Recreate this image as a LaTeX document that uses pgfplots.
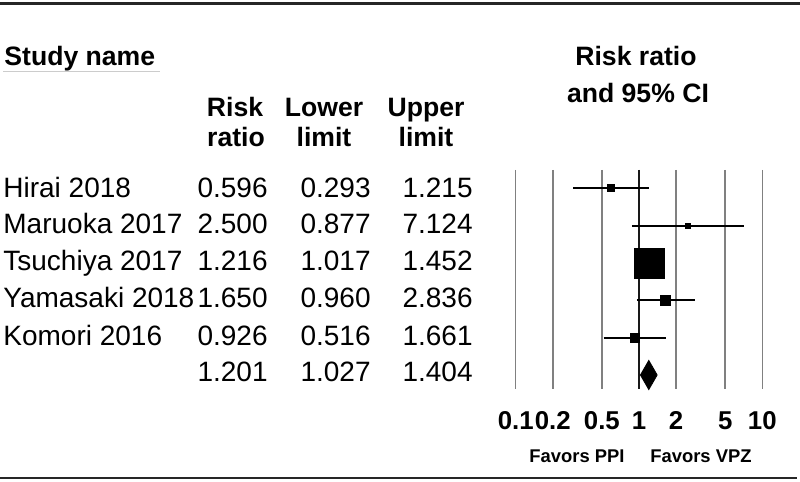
\documentclass[border=0pt]{standalone}
\usepackage{pgfplots}
\pgfplotsset{compat=1.18}
\usepackage{fontspec}
\setmainfont{Liberation Sans}
\begin{document}
\begin{tikzpicture}[x=0.5pt,y=-0.5pt]
\path[use as bounding box] (0,0) rectangle (800,482);
% rules
\draw[line width=1.1pt, black!85] (0,3.5) -- (800,3.5);
\draw[line width=1.1pt, black!85] (0,478) -- (797,478);
\draw[gray!40, line width=0.5pt] (3,71) -- (160,71);
% headers
\node[anchor=base west, inner sep=0, font=\fontsize{13.3}{15}\selectfont\bfseries] at (4,65) {Study name};
\node[anchor=base, inner sep=0, font=\fontsize{13.3}{15}\selectfont\bfseries] at (235,117) {Risk};
\node[anchor=base, inner sep=0, font=\fontsize{13.3}{15}\selectfont\bfseries] at (236,147) {ratio};
\node[anchor=base, inner sep=0, font=\fontsize{13.3}{15}\selectfont\bfseries] at (324,117) {Lower};
\node[anchor=base, inner sep=0, font=\fontsize{13.3}{15}\selectfont\bfseries] at (324,147) {limit};
\node[anchor=base, inner sep=0, font=\fontsize{13.3}{15}\selectfont\bfseries] at (426,117) {Upper};
\node[anchor=base, inner sep=0, font=\fontsize{13.3}{15}\selectfont\bfseries] at (426,147) {limit};
\node[anchor=base, inner sep=0, font=\fontsize{13.3}{15}\selectfont\bfseries] at (636,65) {Risk ratio};
\node[anchor=base, inner sep=0, font=\fontsize{13.3}{15}\selectfont\bfseries] at (638,103) {and 95\% CI};
% table rows
\foreach \n/\r/\l/\u/\y in {Hirai 2018/0.596/0.293/1.215/197.7,
  Maruoka 2017/2.500/0.877/7.124/234,
  Tsuchiya 2017/1.216/1.017/1.452/270.7,
  Yamasaki 2018/1.650/0.960/2.836/307.7,
  Komori 2016/0.926/0.516/1.661/345,
  /1.201/1.027/1.404/381.7}{
  \node[anchor=base west, inner sep=0, font=\fontsize{14}{16}\selectfont] at (3,\y) {\n};
  \node[anchor=base east, inner sep=0, font=\fontsize{14}{16}\selectfont] at (268,\y) {\r};
  \node[anchor=base east, inner sep=0, font=\fontsize{14}{16}\selectfont] at (371,\y) {\l};
  \node[anchor=base east, inner sep=0, font=\fontsize{14}{16}\selectfont] at (473,\y) {\u};
}
\node[anchor=base, inner sep=0, font=\fontsize{9.2}{11}\selectfont\bfseries] at (577,462) {Favors PPI};
\node[anchor=base, inner sep=0, font=\fontsize{9.2}{11}\selectfont\bfseries] at (701,462) {Favors VPZ};
\begin{axis}[
  at={(257.85pt,-194.5pt)}, anchor=south west,
  scale only axis, width=123.3pt, height=109.5pt,
  xmode=log, xmin=0.1, xmax=10,
  ymin=0.51, ymax=6.375, y dir=reverse,
  axis line style={draw=none},
  ytick=\empty,
  xtick={0.1,0.2,0.5,1,2,5,10},
  xticklabels={0.1,0.2,0.5,1,2,5,10},
  major tick length=0pt,
  xmajorgrids,
  major grid style={draw=black!50, line width=0.8pt},
  /pgf/number format/assume math mode=true,
  xticklabel style={anchor=base, yshift=-20pt, inner sep=0pt, font=\fontsize{12.9}{14}\selectfont\bfseries},
  clip=false,
]
\addplot[black!90, line width=1pt] coordinates {(1,0.51) (1,6.375)};
% CI lines
\addplot[black, line width=1.05pt] coordinates {(0.293,1) (1.215,1)};
\addplot[black, line width=1.05pt] coordinates {(0.877,2) (7.124,2)};
\addplot[black, line width=1.05pt] coordinates {(1.017,3) (1.452,3)};
\addplot[black, line width=1.05pt] coordinates {(0.960,4) (2.836,4)};
\addplot[black, line width=1.05pt] coordinates {(0.516,5) (1.661,5)};
% point estimates
\addplot[only marks, mark=square*, mark size=1.8pt, black] coordinates {(0.596,1)};
\addplot[only marks, mark=square*, mark size=1.3pt, black] coordinates {(2.500,2)};
\addplot[only marks, mark=square*, mark size=7.5pt, black] coordinates {(1.216,3)};
\addplot[only marks, mark=square*, mark size=2.5pt, black] coordinates {(1.650,4)};
\addplot[only marks, mark=square*, mark size=2.3pt, black] coordinates {(0.926,5)};
% summary diamond
\addplot[fill=black, draw=black] coordinates {(1.027,6) (1.201,5.61) (1.404,6) (1.201,6.39)} -- cycle;
\end{axis}
\end{tikzpicture}
\end{document}
